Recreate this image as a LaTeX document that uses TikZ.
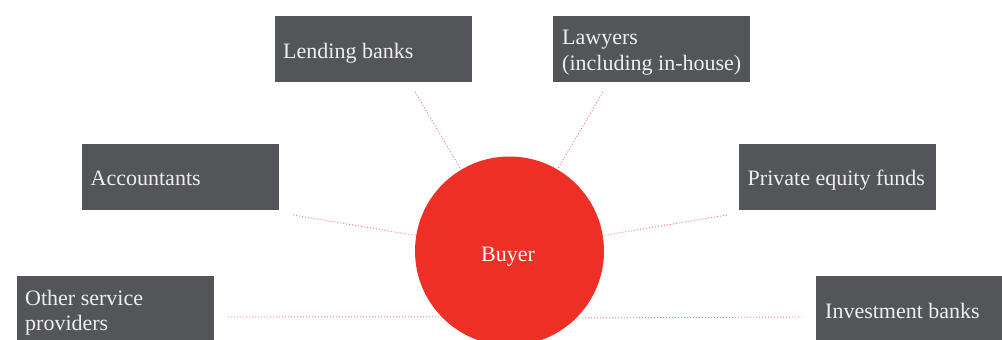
\documentclass[tikz,border=0pt]{standalone}
\usepackage{fontspec}
\setmainfont{Liberation Serif}
\definecolor{boxgrey}{HTML}{545559}
\definecolor{boxtext}{HTML}{EEEEEE}
\definecolor{buyerred}{HTML}{EE2F25}
\definecolor{linkred}{HTML}{F07A72}
\begin{document}
\begin{tikzpicture}[x=1pt,y=-1pt,
  party/.style={fill=boxgrey, draw=none, minimum width=197pt, minimum height=66pt, anchor=north west, inner sep=0pt},
  partytext/.style={text=boxtext, font=\fontsize{22}{25}\selectfont, align=left, inner sep=0pt, anchor=base west},
  hub/.style={circle, fill=buyerred, draw=none, minimum size=189pt, inner sep=0pt},
  link/.style={draw=linkred, line width=0.9pt, dash pattern=on 1pt off 2pt}]
\useasboundingbox (0,0) rectangle (1002,340);
\clip (0,0) rectangle (1002,340);

% central buyer
\node[hub] (buyer) at (509.5,251) {};
\node[partytext, text=white] (buyer-t) at (481,261) {Buyer};

% surrounding parties (base anchor of a two-line label sits on its last line)
\node[party] (lend) at (275,16) {};
\node[partytext] (lend-t) at (283,58) {Lending banks};

\node[party] (law) at (553,16) {};
\node[partytext] (law-t) at (562,70) {Lawyers\\(including in-house)};

\node[party] (acc) at (82,144) {};
\node[partytext] (acc-t) at (90.5,185) {Accountants};

\node[party] (pe) at (739,144) {};
\node[partytext] (pe-t) at (747.5,185) {Private equity funds};

\node[party, minimum height=80pt] (osp) at (17,276) {};
\node[partytext] (osp-t) at (25,330) {Other service\\providers};

\node[party, minimum height=80pt] (ib) at (816,276) {};
\node[partytext] (ib-t) at (825,318) {Investment banks};

% free ends of the dotted links
\coordinate (lend-e) at (415,92);
\coordinate (law-e) at (603,92);
\coordinate (acc-e) at (293,215);
\coordinate (pe-e) at (727,215);
\coordinate (osp-e) at (228,317);
\coordinate (ib-e) at (802,317);

\draw[link] (lend-e) -- (buyer);
\draw[link] (law-e) -- (buyer);
\draw[link] (acc-e) -- (buyer);
\draw[link] (pe-e) -- (buyer);
% the two bottom links run level into the circle
\draw[link] (osp-e) -- (buyer.224.3);
\draw[link] (ib-e) -- (buyer.315.7);
\end{tikzpicture}
\end{document}
